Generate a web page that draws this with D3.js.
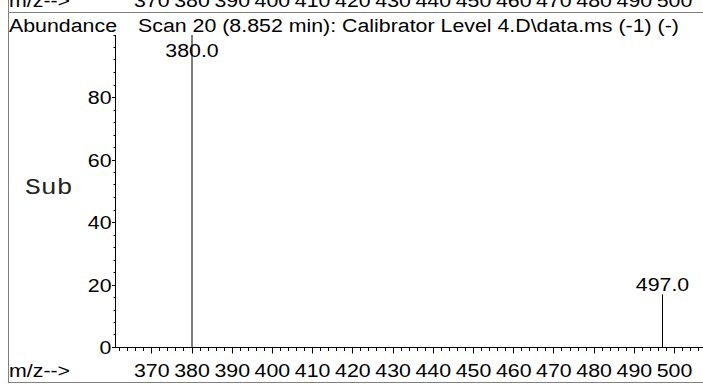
<!DOCTYPE html>
<html><head><meta charset="utf-8">
<script src="https://cdn.jsdelivr.net/npm/d3@7"></script>
<style>html,body{margin:0;padding:0;background:#fff;overflow:hidden}</style>
</head><body>
<script>
// ---- data ----
const peakMz = [380.0, 497.0];
const peakAbundance = [100, 17];
const peakLabels = ["380.0", "497.0"];
const xTickValues = [370, 380, 390, 400, 410, 420, 430, 440, 450, 460, 470, 480, 490, 500];
const yTickValues = [0, 20, 40, 60, 80];
const titleText = "Scan 20 (8.852 min): Calibrator Level 4.D\\data.ms (-1) (-)";
const yAxisTitle = "Abundance";
const xAxisTitle = "m/z-->";
const sideLabel = "Sub";

const W = 703, H = 392;
const FS = 18.6, SX = 1.148;
const svg = d3.select("body").append("svg").attr("width", W).attr("height", H)
  .style("font-family", "'Liberation Sans', Arial, Helvetica, sans-serif");

const x = d3.scaleLinear().domain([380, 497]).range([192.0, 662.5]);
const y = d3.scaleLinear().domain([0, 100]).range([347.5, 35]);
const axisX = 115.5, axisRight = W;
const xMin = x.invert(axisX + 0.5), xMax = x.invert(axisRight);

function stext(g, tx, ty, str, anchor, size, family, sx) {
  const t = g.append("g").attr("transform", `translate(${tx},${ty}) scale(${sx || SX},1)`)
    .append("text").attr("text-anchor", anchor || "start")
    .attr("font-size", size || FS).attr("fill", "#000").text(str);
  if (family) t.attr("font-family", family);
  return t;
}

// frame
const frameCol = "#808080";
svg.append("line").attr("x1", 8.5).attr("x2", 8.5).attr("y1", 0).attr("y2", 382.5).attr("stroke", frameCol);
svg.append("line").attr("x1", 8).attr("x2", W).attr("y1", 12.5).attr("y2", 12.5).attr("stroke", frameCol);
svg.append("line").attr("x1", 8).attr("x2", W).attr("y1", 382.5).attr("y2", 382.5).attr("stroke", frameCol);

// previous panel's x labels (cut at top)
stext(svg, 9, 7.3, xAxisTitle, "start");
xTickValues.forEach(v => stext(svg, x(v), 7.3, String(v), "middle"));

// titles
stext(svg, 9, 31.5, yAxisTitle, "start");
stext(svg, 138, 31.5, titleText, "start");
stext(svg, 25, 194, sideLabel, "start", 22, "'Courier New', Courier, 'Nimbus Mono PS', FreeMono, 'Liberation Mono', monospace", 1.2)
  .attr("font-weight", 300).attr("fill", "#222");

// y axis
svg.append("line").attr("x1", axisX).attr("x2", axisX).attr("y1", y(0)).attr("y2", y(100)).attr("stroke", "#000");
d3.range(0, 101, 4).forEach(v => {
  const yy = Math.round(y(v) - 0.5) + 0.5;
  svg.append("line").attr("x1", axisX - 2).attr("x2", axisX).attr("y1", yy).attr("y2", yy).attr("stroke", "#000");
});
yTickValues.forEach(v => {
  const yy = Math.round(y(v) - 0.5) + 0.5;
  svg.append("line").attr("x1", axisX - 3.5).attr("x2", axisX).attr("y1", yy).attr("y2", yy).attr("stroke", "#000");
  stext(svg, 111.5, y(v) + 6.6, String(v), "end");
});

// x axis
svg.append("line").attr("x1", axisX).attr("x2", axisRight).attr("y1", y(0)).attr("y2", y(0)).attr("stroke", "#000");
d3.range(Math.ceil(xMin / 2) * 2, xMax, 2).forEach(v => {
  const major = v % 10 === 0;
  const xx = Math.round(x(v) - 0.5) + 0.5;
  svg.append("line").attr("x1", xx).attr("x2", xx).attr("y1", y(0)).attr("y2", y(0) + (major ? 6 : 3.5)).attr("stroke", "#000");
});
stext(svg, 9, 376.5, xAxisTitle, "start");
xTickValues.forEach(v => stext(svg, x(v), 376.5, String(v), "middle"));

// peaks
peakMz.forEach((m, i) => {
  svg.append("line").attr("x1", x(m)).attr("x2", x(m)).attr("y1", y(0)).attr("y2", y(peakAbundance[i])).attr("stroke", "#000");
  stext(svg, x(m), Math.max(y(peakAbundance[i]) - 3.7, 57), peakLabels[i], "middle");
});
</script>
</body></html>
